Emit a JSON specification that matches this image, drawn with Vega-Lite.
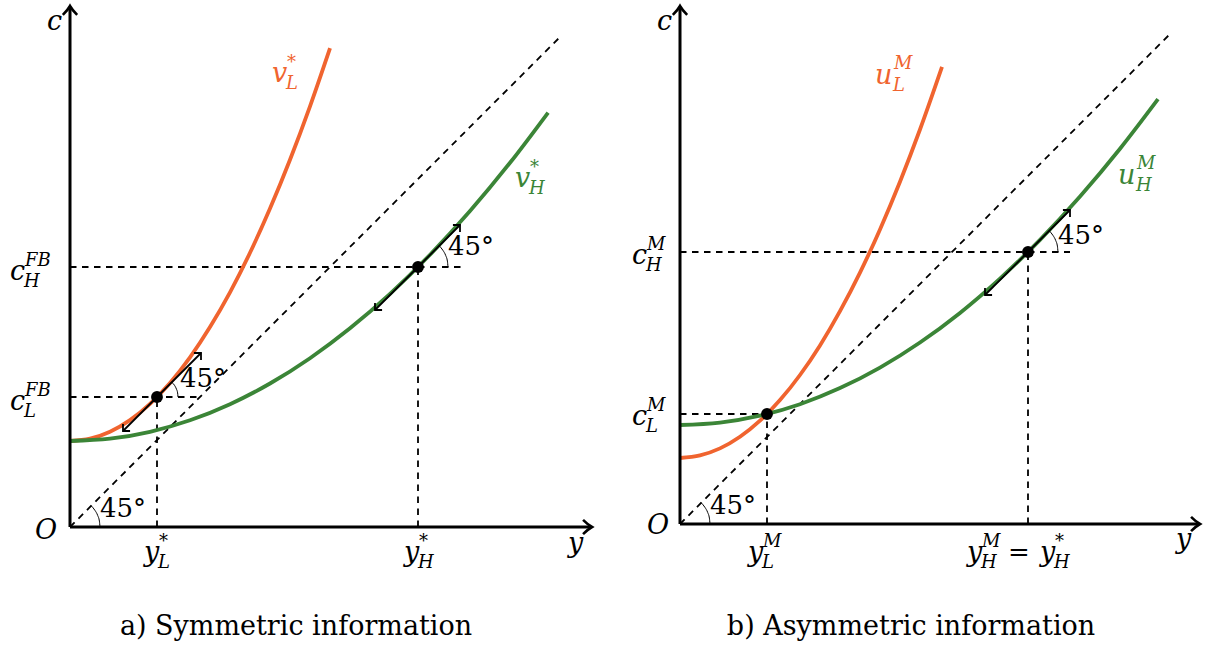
{
  "$schema": "https://vega.github.io/schema/vega-lite/v6.json",
  "padding": 0,
  "spacing": 0,
  "background": "white",
  "config": {"view": {"stroke": null}, "concat": {"spacing": 0}},
  "hconcat": [
    {
      "width": 607,
      "height": 645,
      "data": {"values": [
        {"g": "dash", "x": 0, "y": 0, "x2": 4.9, "y2": 4.9},
        {"g": "dash", "x": 0, "y": 1.30, "x2": 1.30, "y2": 1.30},
        {"g": "dash", "x": 0.87, "y": 0, "x2": 0.87, "y2": 1.30},
        {"g": "dash", "x": 0, "y": 2.60, "x2": 3.92, "y2": 2.60},
        {"g": "dash", "x": 3.48, "y": 0, "x2": 3.48, "y2": 2.60},
        {"g": "curve", "s": "L", "x": 0, "y": 0.860},
        {"g": "curve", "s": "L", "x": 0.2, "y": 0.883},
        {"g": "curve", "s": "L", "x": 0.4, "y": 0.953},
        {"g": "curve", "s": "L", "x": 0.6, "y": 1.069},
        {"g": "curve", "s": "L", "x": 0.8, "y": 1.232},
        {"g": "curve", "s": "L", "x": 1.0, "y": 1.441},
        {"g": "curve", "s": "L", "x": 1.2, "y": 1.697},
        {"g": "curve", "s": "L", "x": 1.4, "y": 2.000},
        {"g": "curve", "s": "L", "x": 1.6, "y": 2.347},
        {"g": "curve", "s": "L", "x": 1.8, "y": 2.742},
        {"g": "curve", "s": "L", "x": 2.0, "y": 3.184},
        {"g": "curve", "s": "L", "x": 2.2, "y": 3.672},
        {"g": "curve", "s": "L", "x": 2.4, "y": 4.207},
        {"g": "curve", "s": "L", "x": 2.6, "y": 4.788},
        {"g": "curve", "s": "H", "x": 0, "y": 0.860},
        {"g": "curve", "s": "H", "x": 0.4, "y": 0.883},
        {"g": "curve", "s": "H", "x": 0.8, "y": 0.952},
        {"g": "curve", "s": "H", "x": 1.2, "y": 1.067},
        {"g": "curve", "s": "H", "x": 1.6, "y": 1.228},
        {"g": "curve", "s": "H", "x": 2.0, "y": 1.435},
        {"g": "curve", "s": "H", "x": 2.4, "y": 1.688},
        {"g": "curve", "s": "H", "x": 2.8, "y": 1.987},
        {"g": "curve", "s": "H", "x": 3.2, "y": 2.331},
        {"g": "curve", "s": "H", "x": 3.6, "y": 2.722},
        {"g": "curve", "s": "H", "x": 4.0, "y": 3.159},
        {"g": "curve", "s": "H", "x": 4.4, "y": 3.642},
        {"g": "curve", "s": "H", "x": 4.78, "y": 4.143},
        {"g": "arc", "id": "aO", "x": 0.300, "y": 0.000},
        {"g": "arc", "id": "aO", "x": 0.294, "y": 0.059},
        {"g": "arc", "id": "aO", "x": 0.277, "y": 0.115},
        {"g": "arc", "id": "aO", "x": 0.249, "y": 0.167},
        {"g": "arc", "id": "aO", "x": 0.212, "y": 0.212},
        {"g": "arc", "id": "aL", "x": 1.080, "y": 1.300},
        {"g": "arc", "id": "aL", "x": 1.076, "y": 1.341},
        {"g": "arc", "id": "aL", "x": 1.064, "y": 1.380},
        {"g": "arc", "id": "aL", "x": 1.045, "y": 1.417},
        {"g": "arc", "id": "aL", "x": 1.018, "y": 1.448},
        {"g": "arc", "id": "aH", "x": 3.780, "y": 2.600},
        {"g": "arc", "id": "aH", "x": 3.774, "y": 2.659},
        {"g": "arc", "id": "aH", "x": 3.757, "y": 2.715},
        {"g": "arc", "id": "aH", "x": 3.729, "y": 2.767},
        {"g": "arc", "id": "aH", "x": 3.692, "y": 2.812},
        {"g": "tan", "x": 0.53, "y": 0.96, "x2": 1.31, "y2": 1.74},
        {"g": "tan", "x": 3.05, "y": 2.17, "x2": 3.90, "y2": 3.02},
        {"g": "ne", "x": 1.31, "y": 1.74},
        {"g": "ne", "x": 3.90, "y": 3.02},
        {"g": "sw", "x": 0.53, "y": 0.96},
        {"g": "sw", "x": 3.05, "y": 2.17},
        {"g": "axis", "x": 0, "y": 0, "x2": 0, "y2": 5.19},
        {"g": "axis", "x": 0, "y": 0, "x2": 5.20, "y2": 0},
        {"g": "up", "x": 0, "y": 5.21},
        {"g": "right", "x": 5.22, "y": 0},
        {"g": "pt", "x": 0.87, "y": 1.30},
        {"g": "pt", "x": 3.48, "y": 2.60},
        {"g": "lab", "x": -0.23, "y": 4.97, "b": "c", "sub": "", "sup": "", "s": "K"},
        {"g": "lab", "x": -0.35, "y": -0.12, "b": "O", "sub": "", "sup": "", "s": "K"},
        {"g": "lab", "x": 4.98, "y": -0.25, "b": "y", "sub": "", "sup": "", "s": "K"},
        {"g": "lab", "x": -0.60, "y": 1.17, "b": "c", "sub": "L", "sup": "FB", "s": "K"},
        {"g": "lab", "x": -0.60, "y": 2.47, "b": "c", "sub": "H", "sup": "FB", "s": "K"},
        {"g": "lab", "x": 0.74, "y": -0.34, "b": "y", "sub": "L", "sup": "*", "s": "K"},
        {"g": "lab", "x": 3.34, "y": -0.34, "b": "y", "sub": "H", "sup": "*", "s": "K"},
        {"g": "lab", "x": 2.02, "y": 4.45, "b": "v", "sub": "L", "sup": "*", "s": "L"},
        {"g": "lab", "x": 4.45, "y": 3.40, "b": "v", "sub": "H", "sup": "*", "s": "H"},
        {"g": "num", "x": 0.30, "y": 0.10, "b": "45°"},
        {"g": "num", "x": 1.10, "y": 1.40, "b": "45°"},
        {"g": "num", "x": 3.78, "y": 2.72, "b": "45°"},
        {"g": "cap", "x": 2.26, "y": -1.08, "b": "a) Symmetric information"}
      ]},
      "encoding": {
        "x": {"field": "x", "type": "quantitative", "scale": {"domain": [-0.70, 5.37], "nice": false, "zero": false}, "axis": null},
        "y": {"field": "y", "type": "quantitative", "scale": {"domain": [-1.20, 5.25], "nice": false, "zero": false}, "axis": null}
      },
      "layer": [
        {"transform": [{"filter": "datum.g == 'dash'"}], "mark": {"type": "rule", "color": "black", "strokeWidth": 1.8, "strokeDash": [6.5, 5.5]}, "encoding": {"x2": {"field": "x2"}, "y2": {"field": "y2"}}},
        {"transform": [{"filter": "datum.g == 'curve'"}], "mark": {"type": "line", "strokeWidth": 3.8, "interpolate": "monotone"}, "encoding": {"color": {"field": "s", "type": "nominal", "scale": {"domain": ["L", "H", "K"], "range": ["#F0642F", "#3B8537", "#000000"]}, "legend": null}}},
        {"transform": [{"filter": "datum.g == 'arc'"}], "mark": {"type": "line", "color": "black", "strokeWidth": 1, "interpolate": "monotone"}, "encoding": {"detail": {"field": "id"}}},
        {"transform": [{"filter": "datum.g == 'tan'"}], "mark": {"type": "rule", "color": "black", "strokeWidth": 1.8}, "encoding": {"x2": {"field": "x2"}, "y2": {"field": "y2"}}},
        {"transform": [{"filter": "datum.g == 'ne'"}], "mark": {"type": "point", "shape": "M-1,1L0,0L1,1", "angle": 45, "size": 100, "filled": false, "stroke": "black", "strokeWidth": 1.8, "opacity": 1}},
        {"transform": [{"filter": "datum.g == 'sw'"}], "mark": {"type": "point", "shape": "M-1,1L0,0L1,1", "angle": 225, "size": 100, "filled": false, "stroke": "black", "strokeWidth": 1.8, "opacity": 1}},
        {"transform": [{"filter": "datum.g == 'axis'"}], "mark": {"type": "rule", "color": "black", "strokeWidth": 3}, "encoding": {"x2": {"field": "x2"}, "y2": {"field": "y2"}}},
        {"transform": [{"filter": "datum.g == 'up'"}], "mark": {"type": "point", "shape": "M-0.8,1Q-0.25,0.45 0,0Q0.25,0.45 0.8,1", "angle": 0, "size": 320, "filled": false, "stroke": "black", "strokeWidth": 2.6, "opacity": 1}},
        {"transform": [{"filter": "datum.g == 'right'"}], "mark": {"type": "point", "shape": "M-0.8,1Q-0.25,0.45 0,0Q0.25,0.45 0.8,1", "angle": 90, "size": 320, "filled": false, "stroke": "black", "strokeWidth": 2.6, "opacity": 1}},
        {"transform": [{"filter": "datum.g == 'pt'"}], "mark": {"type": "point", "shape": "circle", "size": 140, "filled": true, "color": "black", "opacity": 1}},
        {"transform": [{"filter": "datum.g == 'lab'"}], "mark": {"type": "text", "align": "left", "baseline": "alphabetic", "font": "DejaVu Serif", "fontStyle": "italic", "fontSize": 27}, "encoding": {"text": {"field": "b"}, "color": {"field": "s", "type": "nominal", "scale": {"domain": ["L", "H", "K"], "range": ["#F0642F", "#3B8537", "#000000"]}, "legend": null}}},
        {"transform": [{"filter": "datum.g == 'lab'"}], "mark": {"type": "text", "align": "left", "baseline": "alphabetic", "font": "DejaVu Serif", "fontStyle": "italic", "fontSize": 18, "dx": 14, "dy": 7}, "encoding": {"text": {"field": "sub"}, "color": {"field": "s", "type": "nominal", "scale": {"domain": ["L", "H", "K"], "range": ["#F0642F", "#3B8537", "#000000"]}, "legend": null}}},
        {"transform": [{"filter": "datum.g == 'lab'"}], "mark": {"type": "text", "align": "left", "baseline": "alphabetic", "font": "DejaVu Serif", "fontStyle": "italic", "fontSize": 18, "dx": 15, "dy": -14}, "encoding": {"text": {"field": "sup"}, "color": {"field": "s", "type": "nominal", "scale": {"domain": ["L", "H", "K"], "range": ["#F0642F", "#3B8537", "#000000"]}, "legend": null}}},
        {"transform": [{"filter": "datum.g == 'num'"}], "mark": {"type": "text", "align": "left", "baseline": "alphabetic", "font": "DejaVu Serif", "fontSize": 26, "color": "black"}, "encoding": {"text": {"field": "b"}}},
        {"transform": [{"filter": "datum.g == 'cap'"}], "mark": {"type": "text", "align": "center", "baseline": "alphabetic", "font": "DejaVu Serif", "fontSize": 27, "color": "black"}, "encoding": {"text": {"field": "b"}}}
      ]
    },
    {
      "width": 608,
      "height": 645,
      "data": {"values": [
        {"g": "dash", "x": 0, "y": 0, "x2": 4.9, "y2": 4.9},
        {"g": "dash", "x": 0, "y": 1.10, "x2": 0.87, "y2": 1.10},
        {"g": "dash", "x": 0.87, "y": 0, "x2": 0.87, "y2": 1.10},
        {"g": "dash", "x": 0, "y": 2.72, "x2": 3.90, "y2": 2.72},
        {"g": "dash", "x": 3.48, "y": 0, "x2": 3.48, "y2": 2.72},
        {"g": "curve", "s": "L", "x": 0, "y": 0.660},
        {"g": "curve", "s": "L", "x": 0.2, "y": 0.686},
        {"g": "curve", "s": "L", "x": 0.4, "y": 0.756},
        {"g": "curve", "s": "L", "x": 0.6, "y": 0.872},
        {"g": "curve", "s": "L", "x": 0.8, "y": 1.033},
        {"g": "curve", "s": "L", "x": 1.0, "y": 1.239},
        {"g": "curve", "s": "L", "x": 1.2, "y": 1.490},
        {"g": "curve", "s": "L", "x": 1.4, "y": 1.786},
        {"g": "curve", "s": "L", "x": 1.6, "y": 2.128},
        {"g": "curve", "s": "L", "x": 1.8, "y": 2.514},
        {"g": "curve", "s": "L", "x": 2.0, "y": 2.946},
        {"g": "curve", "s": "L", "x": 2.2, "y": 3.423},
        {"g": "curve", "s": "L", "x": 2.4, "y": 3.945},
        {"g": "curve", "s": "L", "x": 2.62, "y": 4.571},
        {"g": "curve", "s": "H", "x": 0, "y": 0.990},
        {"g": "curve", "s": "H", "x": 0.4, "y": 1.014},
        {"g": "curve", "s": "H", "x": 0.8, "y": 1.083},
        {"g": "curve", "s": "H", "x": 1.2, "y": 1.198},
        {"g": "curve", "s": "H", "x": 1.6, "y": 1.359},
        {"g": "curve", "s": "H", "x": 2.0, "y": 1.564},
        {"g": "curve", "s": "H", "x": 2.4, "y": 1.815},
        {"g": "curve", "s": "H", "x": 2.8, "y": 2.111},
        {"g": "curve", "s": "H", "x": 3.2, "y": 2.454},
        {"g": "curve", "s": "H", "x": 3.6, "y": 2.841},
        {"g": "curve", "s": "H", "x": 4.0, "y": 3.274},
        {"g": "curve", "s": "H", "x": 4.4, "y": 3.752},
        {"g": "curve", "s": "H", "x": 4.78, "y": 4.248},
        {"g": "arc", "id": "aO", "x": 0.300, "y": 0.000},
        {"g": "arc", "id": "aO", "x": 0.294, "y": 0.059},
        {"g": "arc", "id": "aO", "x": 0.277, "y": 0.115},
        {"g": "arc", "id": "aO", "x": 0.249, "y": 0.167},
        {"g": "arc", "id": "aO", "x": 0.212, "y": 0.212},
        {"g": "arc", "id": "aH", "x": 3.780, "y": 2.720},
        {"g": "arc", "id": "aH", "x": 3.774, "y": 2.779},
        {"g": "arc", "id": "aH", "x": 3.757, "y": 2.835},
        {"g": "arc", "id": "aH", "x": 3.729, "y": 2.887},
        {"g": "arc", "id": "aH", "x": 3.692, "y": 2.932},
        {"g": "tan", "x": 3.05, "y": 2.29, "x2": 3.90, "y2": 3.14},
        {"g": "ne", "x": 3.90, "y": 3.14},
        {"g": "sw", "x": 3.05, "y": 2.29},
        {"g": "axis", "x": 0, "y": 0, "x2": 0, "y2": 5.16},
        {"g": "axis", "x": 0, "y": 0, "x2": 5.18, "y2": 0},
        {"g": "up", "x": 0, "y": 5.18},
        {"g": "right", "x": 5.20, "y": 0},
        {"g": "pt", "x": 0.87, "y": 1.10},
        {"g": "pt", "x": 3.48, "y": 2.72},
        {"g": "lab", "x": -0.23, "y": 4.94, "b": "c", "sub": "", "sup": "", "s": "K"},
        {"g": "lab", "x": -0.33, "y": -0.10, "b": "O", "sub": "", "sup": "", "s": "K"},
        {"g": "lab", "x": 4.96, "y": -0.24, "b": "y", "sub": "", "sup": "", "s": "K"},
        {"g": "lab", "x": -0.48, "y": 0.99, "b": "c", "sub": "L", "sup": "M", "s": "K"},
        {"g": "lab", "x": -0.48, "y": 2.60, "b": "c", "sub": "H", "sup": "M", "s": "K"},
        {"g": "lab", "x": 0.68, "y": -0.37, "b": "y", "sub": "L", "sup": "M", "s": "K"},
        {"g": "lab", "x": 2.87, "y": -0.37, "b": "y", "sub": "H", "sup": "M", "s": "K"},
        {"g": "lab", "x": 3.60, "y": -0.37, "b": "y", "sub": "H", "sup": "*", "s": "K"},
        {"g": "lab", "x": 1.95, "y": 4.40, "b": "u", "sub": "L", "sup": "M", "s": "L"},
        {"g": "lab", "x": 4.38, "y": 3.40, "b": "u", "sub": "H", "sup": "M", "s": "H"},
        {"g": "num", "x": 3.28, "y": -0.37, "b": "="},
        {"g": "num", "x": 0.30, "y": 0.10, "b": "45°"},
        {"g": "num", "x": 3.78, "y": 2.80, "b": "45°"},
        {"g": "cap", "x": 2.31, "y": -1.11, "b": "b) Asymmetric information"}
      ]},
      "encoding": {
        "x": {"field": "x", "type": "quantitative", "scale": {"domain": [-0.73, 5.35], "nice": false, "zero": false}, "axis": null},
        "y": {"field": "y", "type": "quantitative", "scale": {"domain": [-1.23, 5.22], "nice": false, "zero": false}, "axis": null}
      },
      "layer": [
        {"transform": [{"filter": "datum.g == 'dash'"}], "mark": {"type": "rule", "color": "black", "strokeWidth": 1.8, "strokeDash": [6.5, 5.5]}, "encoding": {"x2": {"field": "x2"}, "y2": {"field": "y2"}}},
        {"transform": [{"filter": "datum.g == 'curve'"}], "mark": {"type": "line", "strokeWidth": 3.8, "interpolate": "monotone"}, "encoding": {"color": {"field": "s", "type": "nominal", "scale": {"domain": ["L", "H", "K"], "range": ["#F0642F", "#3B8537", "#000000"]}, "legend": null}}},
        {"transform": [{"filter": "datum.g == 'arc'"}], "mark": {"type": "line", "color": "black", "strokeWidth": 1, "interpolate": "monotone"}, "encoding": {"detail": {"field": "id"}}},
        {"transform": [{"filter": "datum.g == 'tan'"}], "mark": {"type": "rule", "color": "black", "strokeWidth": 1.8}, "encoding": {"x2": {"field": "x2"}, "y2": {"field": "y2"}}},
        {"transform": [{"filter": "datum.g == 'ne'"}], "mark": {"type": "point", "shape": "M-1,1L0,0L1,1", "angle": 45, "size": 100, "filled": false, "stroke": "black", "strokeWidth": 1.8, "opacity": 1}},
        {"transform": [{"filter": "datum.g == 'sw'"}], "mark": {"type": "point", "shape": "M-1,1L0,0L1,1", "angle": 225, "size": 100, "filled": false, "stroke": "black", "strokeWidth": 1.8, "opacity": 1}},
        {"transform": [{"filter": "datum.g == 'axis'"}], "mark": {"type": "rule", "color": "black", "strokeWidth": 3}, "encoding": {"x2": {"field": "x2"}, "y2": {"field": "y2"}}},
        {"transform": [{"filter": "datum.g == 'up'"}], "mark": {"type": "point", "shape": "M-0.8,1Q-0.25,0.45 0,0Q0.25,0.45 0.8,1", "angle": 0, "size": 320, "filled": false, "stroke": "black", "strokeWidth": 2.6, "opacity": 1}},
        {"transform": [{"filter": "datum.g == 'right'"}], "mark": {"type": "point", "shape": "M-0.8,1Q-0.25,0.45 0,0Q0.25,0.45 0.8,1", "angle": 90, "size": 320, "filled": false, "stroke": "black", "strokeWidth": 2.6, "opacity": 1}},
        {"transform": [{"filter": "datum.g == 'pt'"}], "mark": {"type": "point", "shape": "circle", "size": 140, "filled": true, "color": "black", "opacity": 1}},
        {"transform": [{"filter": "datum.g == 'lab'"}], "mark": {"type": "text", "align": "left", "baseline": "alphabetic", "font": "DejaVu Serif", "fontStyle": "italic", "fontSize": 27}, "encoding": {"text": {"field": "b"}, "color": {"field": "s", "type": "nominal", "scale": {"domain": ["L", "H", "K"], "range": ["#F0642F", "#3B8537", "#000000"]}, "legend": null}}},
        {"transform": [{"filter": "datum.g == 'lab' && datum.b != 'u'"}], "mark": {"type": "text", "align": "left", "baseline": "alphabetic", "font": "DejaVu Serif", "fontStyle": "italic", "fontSize": 18, "dx": 14, "dy": 7}, "encoding": {"text": {"field": "sub"}, "color": {"field": "s", "type": "nominal", "scale": {"domain": ["L", "H", "K"], "range": ["#F0642F", "#3B8537", "#000000"]}, "legend": null}}},
        {"transform": [{"filter": "datum.g == 'lab' && datum.b != 'u'"}], "mark": {"type": "text", "align": "left", "baseline": "alphabetic", "font": "DejaVu Serif", "fontStyle": "italic", "fontSize": 18, "dx": 15, "dy": -14}, "encoding": {"text": {"field": "sup"}, "color": {"field": "s", "type": "nominal", "scale": {"domain": ["L", "H", "K"], "range": ["#F0642F", "#3B8537", "#000000"]}, "legend": null}}},
        {"transform": [{"filter": "datum.g == 'lab' && datum.b == 'u'"}], "mark": {"type": "text", "align": "left", "baseline": "alphabetic", "font": "DejaVu Serif", "fontStyle": "italic", "fontSize": 18, "dx": 18, "dy": 7}, "encoding": {"text": {"field": "sub"}, "color": {"field": "s", "type": "nominal", "scale": {"domain": ["L", "H", "K"], "range": ["#F0642F", "#3B8537", "#000000"]}, "legend": null}}},
        {"transform": [{"filter": "datum.g == 'lab' && datum.b == 'u'"}], "mark": {"type": "text", "align": "left", "baseline": "alphabetic", "font": "DejaVu Serif", "fontStyle": "italic", "fontSize": 18, "dx": 19, "dy": -15}, "encoding": {"text": {"field": "sup"}, "color": {"field": "s", "type": "nominal", "scale": {"domain": ["L", "H", "K"], "range": ["#F0642F", "#3B8537", "#000000"]}, "legend": null}}},
        {"transform": [{"filter": "datum.g == 'num'"}], "mark": {"type": "text", "align": "left", "baseline": "alphabetic", "font": "DejaVu Serif", "fontSize": 26, "color": "black"}, "encoding": {"text": {"field": "b"}}},
        {"transform": [{"filter": "datum.g == 'cap'"}], "mark": {"type": "text", "align": "center", "baseline": "alphabetic", "font": "DejaVu Serif", "fontSize": 27, "color": "black"}, "encoding": {"text": {"field": "b"}}}
      ]
    }
  ]
}
